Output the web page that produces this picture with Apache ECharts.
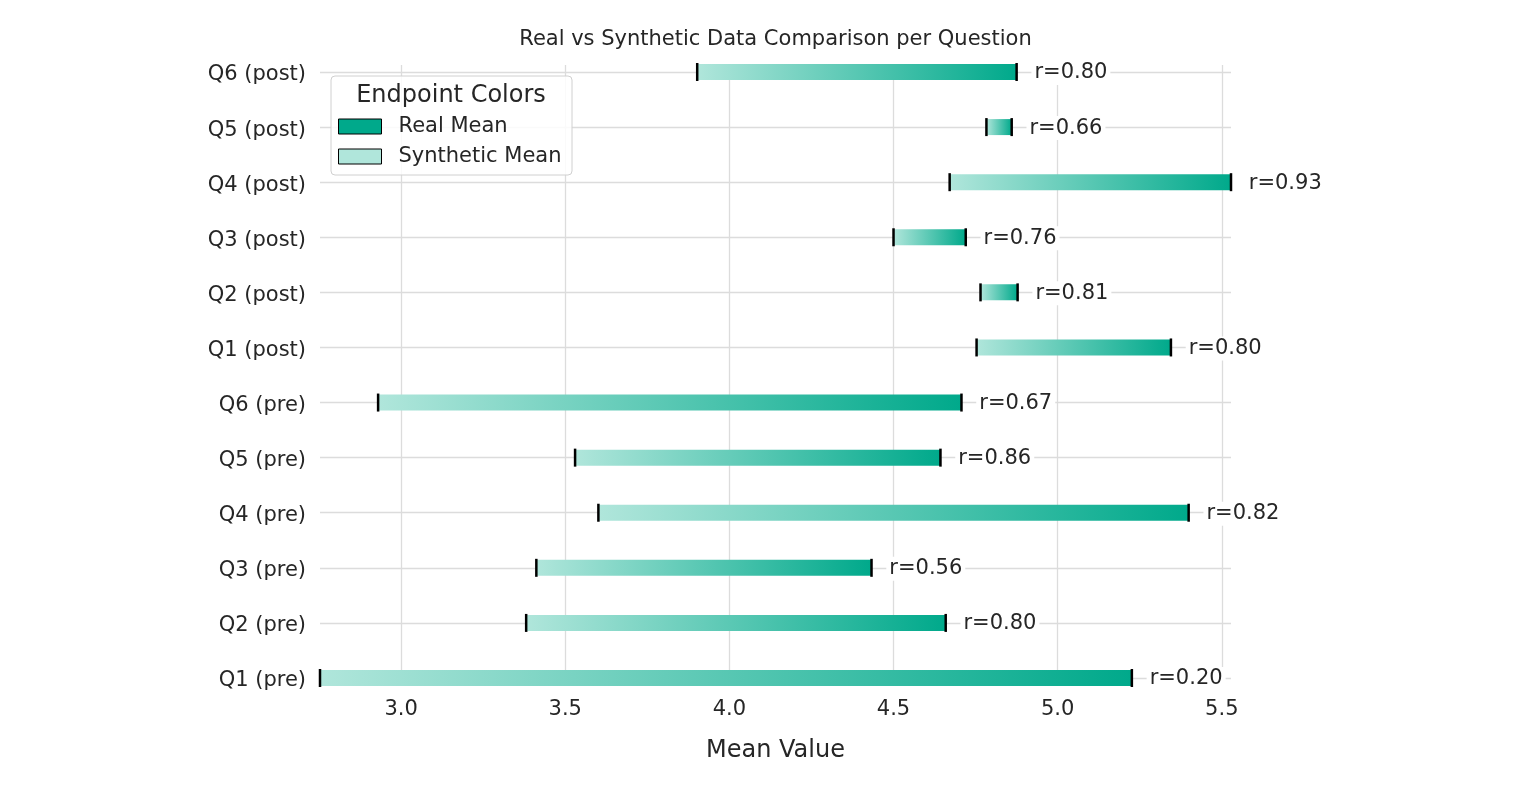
<!DOCTYPE html>
<html>
<head>
<meta charset="utf-8">
<script src="https://cdn.jsdelivr.net/npm/echarts@6/dist/echarts.min.js"></script>
<style>
html,body{margin:0;padding:0;background:#fff;}
#chart{width:1530px;height:798px;}
</style>
</head>
<body>
<div id="chart"></div>
<script>
// Data (bottom to top)
const categories = ['Q1 (pre)','Q2 (pre)','Q3 (pre)','Q4 (pre)','Q5 (pre)','Q6 (pre)','Q1 (post)','Q2 (post)','Q3 (post)','Q4 (post)','Q5 (post)','Q6 (post)'];
const syntheticMean = [2.753, 3.381, 3.412, 3.601, 3.530, 2.930, 4.753, 4.765, 4.500, 4.671, 4.783, 3.902];
const realMean = [5.226, 4.659, 4.433, 5.399, 4.643, 4.707, 5.345, 4.878, 4.720, 5.528, 4.860, 4.875];
const rLabels = ['0.20','0.80','0.56','0.82','0.86','0.67','0.80','0.81','0.76','0.93','0.66','0.80'];
const xTicks = [3.0, 3.5, 4.0, 4.5, 5.0, 5.5];

const LIGHT = '#b0e6db';
const DARK = '#00a98b';
const TXT = '#262626';
const FONT = '"DejaVu Sans", sans-serif';

const XMIN = Math.min(...syntheticMean, ...realMean);
const XMAX = Math.max(...syntheticMean, ...realMean);

const rows = categories.map((c, i) => [i, syntheticMean[i], realMean[i]]);

function renderItem(params, api) {
  const i = api.value(0);
  const s = api.value(1), rv = api.value(2);
  const p0 = api.coord([s, i]);
  const p1 = api.coord([rv, i]);
  const h = 16;
  const tx = api.coord([rv + 0.045, i])[0];
  return {
    type: 'group',
    children: [
      { type: 'rect', shape: { x: p0[0], y: p0[1] - h / 2, width: p1[0] - p0[0], height: h },
        style: { fill: new echarts.graphic.LinearGradient(0, 0, 1, 0, [{ offset: 0, color: LIGHT }, { offset: 1, color: DARK }]) } },
      { type: 'line', shape: { x1: p0[0], y1: p0[1] - 9, x2: p0[0], y2: p0[1] + 9 }, style: { stroke: '#000', lineWidth: 2.5 } },
      { type: 'line', shape: { x1: p1[0], y1: p1[1] - 9, x2: p1[0], y2: p1[1] + 9 }, style: { stroke: '#000', lineWidth: 2.5 } },
      { type: 'text', x: tx, y: p1[1] + 1,
        style: { text: 'r=' + rLabels[params.dataIndex], fill: TXT, font: '21px ' + FONT,
                 align: 'left', verticalAlign: 'middle', backgroundColor: '#ffffff', padding: [2, 3, 1, 3] } }
    ]
  };
}

const chart = echarts.init(document.getElementById('chart'), null, { renderer: 'canvas' });
chart.setOption({
  animation: false,
  backgroundColor: '#ffffff',
  grid: { left: 320, right: 299, top: 65, bottom: 112, containLabel: false },
  xAxis: {
    type: 'value', min: XMIN, max: XMAX,
    name: 'Mean Value', nameLocation: 'middle', nameGap: 53,
    nameTextStyle: { fontSize: 24, color: TXT, fontFamily: FONT },
    axisLine: { show: false }, axisTick: { show: false, customValues: xTicks },
    axisLabel: { customValues: xTicks, formatter: v => v.toFixed(1), fontSize: 21, color: TXT, fontFamily: FONT, margin: 13 },
    splitLine: { show: true, lineStyle: { color: '#dcdcdc', width: 1.3 } }
  },
  yAxis: {
    type: 'value', min: -0.145, max: 11.127,
    axisLine: { show: false }, axisTick: { show: false, customValues: categories.map((c, i) => i) },
    axisLabel: { customValues: categories.map((c, i) => i),
                 formatter: v => '{c|' + (categories[Math.round(v)] || '') + '}',
                 rich: { c: { fontSize: 21, color: TXT, fontFamily: FONT, padding: [6, 0, 0, 0] } },
                 fontSize: 21, color: TXT, fontFamily: FONT, margin: 14 },
    splitLine: { show: true, lineStyle: { color: '#dcdcdc', width: 1.3 } }
  },
  legend: {
    orient: 'vertical', left: 338, top: 116, itemWidth: 43, itemHeight: 15, itemGap: 9, padding: 0, z: 20,
    icon: 'rect',
    textStyle: { fontSize: 21, color: TXT, fontFamily: FONT, padding: [0, 0, 0, 12] },
    data: [
      { name: 'Real Mean', itemStyle: { color: DARK, borderColor: '#000', borderWidth: 1 } },
      { name: 'Synthetic Mean', itemStyle: { color: LIGHT, borderColor: '#000', borderWidth: 1 } }
    ]
  },
  graphic: [
    { type: 'rect', z: 15, shape: { x: 331, y: 76, width: 241, height: 99, r: 4 },
      style: { fill: 'rgba(255,255,255,0.85)', stroke: '#d0d0d0', lineWidth: 1 } },
    { type: 'text', z: 16, x: 451, y: 96,
      style: { text: 'Endpoint Colors', fill: TXT, font: '24px ' + FONT, align: 'center', verticalAlign: 'middle' } },
    { type: 'text', z: 16, x: 775.5, y: 40,
      style: { text: 'Real vs Synthetic Data Comparison per Question', fill: TXT, font: '21px ' + FONT, align: 'center', verticalAlign: 'middle' } }
  ],
  series: [
    { type: 'custom', name: 'ranges', renderItem: renderItem, data: rows, encode: { x: [1, 2], y: 0 }, clip: false, z: 3 },
    { type: 'bar', name: 'Real Mean', data: [], itemStyle: { color: DARK, borderColor: '#000', borderWidth: 1 } },
    { type: 'bar', name: 'Synthetic Mean', data: [], itemStyle: { color: LIGHT, borderColor: '#000', borderWidth: 1 } }
  ]
});
</script>
</body>
</html>
